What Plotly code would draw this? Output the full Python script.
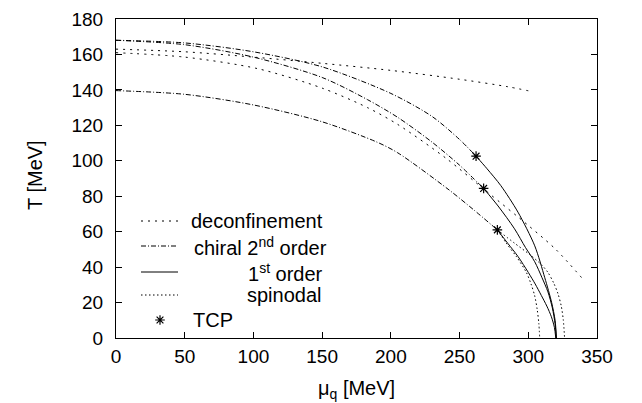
import plotly.graph_objects as go

# ---------------- data ----------------
# deconfinement (dotted, sparse)
decon1_mu = [0, 50, 100, 150, 200, 250, 285, 300]
decon1_T = [163, 161.5, 158.5, 155, 151, 146, 141.8, 139.5]
decon2_mu = [0, 50, 103, 150, 183, 205, 240, 270, 300, 320, 340]
decon2_T = [161, 158.5, 152, 141, 130, 120.5, 101.5, 82.5, 63.5, 50, 33]

# chiral 2nd order (dash-dot), each ending at its TCP
chiA_mu = [0, 50, 100, 150, 200, 230, 250, 262]
chiA_T = [168, 166.5, 161.5, 153, 138, 125, 112, 102.6]
chiB_mu = [0, 50, 100, 150, 183, 205, 230, 250, 267.5]
chiB_T = [168, 165.5, 158.5, 147, 134.5, 124.5, 110.5, 97.5, 84.4]
chiC_mu = [0, 50, 100, 150, 190, 205, 241.6, 260, 277.5]
chiC_T = [139.6, 137.5, 131.5, 122, 110.5, 104.5, 84, 72.5, 61]

# 1st order (solid), from each TCP down to T = 0
firA_mu = [262, 270, 280, 292.5, 304.7, 312, 317, 319.5, 320.5]
firA_T = [102.6, 95.5, 86, 71, 52, 34, 20, 10, 0]
firB_mu = [267.5, 278, 290, 298, 304.7, 310, 314.3, 317.5, 319.5, 320.3]
firB_T = [84.4, 74.5, 61.6, 51, 43, 34, 26, 17, 8, 0]
firC_mu = [277.5, 285, 292.5, 300, 305, 309.5, 313.5, 316.8, 319, 320]
firC_T = [61, 53.5, 46, 37, 30.5, 24, 18, 12, 6, 0]

# spinodals (dense dots)
spin1_mu = [277.5, 284, 291.3, 298.6, 302, 304.6, 306.5, 307.7, 308.3]
spin1_T = [61, 53.5, 46, 37, 30.5, 24, 16, 8, 0]
spin2_mu = [277.5, 290, 302, 310, 314.3, 318.5, 321.6, 324, 325.5, 326.4]
spin2_T = [61, 53.5, 46.5, 41, 37, 31, 25, 18, 10, 0]

# tricritical points
tcp_mu = [262, 267.5, 277.5]
tcp_T = [102.6, 84.4, 61]

x_ticks = [0, 50, 100, 150, 200, 250, 300, 350]
y_ticks = [0, 20, 40, 60, 80, 100, 120, 140, 160, 180]

legend_labels = ["deconfinement", "chiral 2<sup>nd</sup> order",
                 "1<sup>st</sup> order", "spinodal", "TCP"]

# ---------------- styles ----------------
FONT = "Liberation Sans, Arial, Helvetica, sans-serif"
DECON = "2px,5px"
CHIRAL = "5px,2px,1px,2px"
SPIN = "1.5px,2.5px"

fig = go.Figure()


def add_line(x, y, dash):
    fig.add_trace(go.Scatter(x=x, y=y, mode="lines",
                             line=dict(color="black", width=1, dash=dash,
                                       shape="spline", smoothing=0.8),
                             showlegend=False, hoverinfo="skip"))


add_line(decon1_mu, decon1_T, DECON)
add_line(decon2_mu, decon2_T, DECON)
add_line(chiA_mu, chiA_T, CHIRAL)
add_line(chiB_mu, chiB_T, CHIRAL)
add_line(chiC_mu, chiC_T, CHIRAL)
add_line(firA_mu, firA_T, "solid")
add_line(firB_mu, firB_T, "solid")
add_line(firC_mu, firC_T, "solid")
add_line(spin1_mu, spin1_T, SPIN)
add_line(spin2_mu, spin2_T, SPIN)

STAR = dict(symbol="asterisk-open", size=8, color="black",
            line=dict(color="black", width=1.2))

fig.add_trace(go.Scatter(x=tcp_mu, y=tcp_T, mode="markers", marker=STAR,
                         showlegend=False, hoverinfo="skip"))

# ---------------- manual legend (paper coords) ----------------
L, T0, W, H = 108, 11, 481, 319


def px(xp):
    return (xp - L) / W


def py(yp):
    return (T0 + H - yp) / H


rows = [213, 238, 264, 287, 312]
dashes = [DECON, CHIRAL, "solid", SPIN]
for r, d in zip(rows[:4], dashes):
    fig.add_shape(type="line", xref="paper", yref="paper",
                  x0=px(133), x1=px(170), y0=py(r), y1=py(r),
                  line=dict(color="black", width=1, dash=d))

# star sample
fig.add_trace(go.Scatter(x=[px(152)], y=[py(312)], xaxis="x2", yaxis="y2",
                         mode="markers", marker=STAR,
                         showlegend=False, hoverinfo="skip"))

right_ends = [317, 321, 317, 316]
for r, lab, xe in zip(rows[:4], legend_labels[:4], right_ends):
    fig.add_annotation(x=px(xe), y=py(r), xref="paper", yref="paper",
                       text=lab, showarrow=False, xanchor="right",
                       yanchor="middle", font=dict(size=20, color="black", family=FONT))
fig.add_annotation(x=px(183), y=py(rows[4]), xref="paper", yref="paper",
                   text=legend_labels[4], showarrow=False, xanchor="left",
                   yanchor="middle", font=dict(size=20, color="black", family=FONT))

# axis titles
fig.add_annotation(x=0.5, y=py(381), xref="paper", yref="paper",
                   text="μ<sub>q</sub> [MeV]", showarrow=False,
                   xanchor="center", yanchor="middle",
                   font=dict(size=20, color="black", family=FONT))
fig.add_annotation(x=px(27), y=py(167), xref="paper", yref="paper",
                   text="T [MeV]", showarrow=False, textangle=-90,
                   xanchor="center", yanchor="middle",
                   font=dict(size=20, color="black", family=FONT))

axis_common = dict(showgrid=False, zeroline=False, showline=True,
                   linecolor="black", linewidth=1, mirror="ticks",
                   ticks="inside", ticklen=6, tickwidth=1, tickcolor="black",
                   ticklabeloverflow="allow",
                   tickfont=dict(size=19, color="black", family=FONT))

fig.update_layout(
    width=642, height=403,
    margin=dict(l=108, r=53, t=11, b=73, autoexpand=False),
    paper_bgcolor="white", plot_bgcolor="white",
    font=dict(family=FONT, size=20, color="black"),
    xaxis=dict(range=[0, 350], tickvals=x_ticks, ticktext=[str(v) for v in x_ticks],
               ticklabelstandoff=1, **axis_common),
    yaxis=dict(range=[0, 180], tickvals=y_ticks, ticktext=[str(v) for v in y_ticks],
               ticklabelstandoff=8, **axis_common),
    xaxis2=dict(range=[0, 1], overlaying="x", visible=False, anchor="y2"),
    yaxis2=dict(range=[0, 1], overlaying="y", visible=False, anchor="x2"),
    showlegend=False,
)

fig.write_html("out.html")
